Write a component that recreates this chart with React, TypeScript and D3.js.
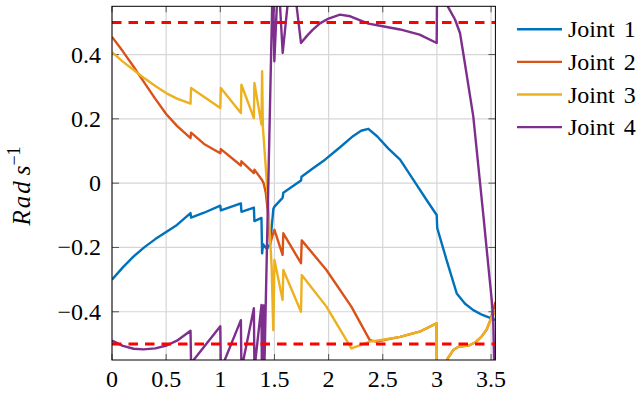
import React from "react";
import * as d3 from "d3";

type P = [number, number];

const xTicks = [0, 0.5, 1, 1.5, 2, 2.5, 3, 3.5];
const yTicks = [-0.4, -0.2, 0, 0.2, 0.4];
const xDomain: P = [0, 3.54];
const yDomain: P = [-0.55, 0.55];
const limits = [0.5, -0.5];

const seriesNames = ["Joint 1", "Joint 2", "Joint 3", "Joint 4"];
const seriesColors = ["#0072BD", "#D95319", "#EDB120", "#7E2F8E"];

const joint1: P[] = [
  [0, -0.3], [0.1, -0.262], [0.2, -0.228], [0.3, -0.199], [0.4, -0.174], [0.5, -0.152],
  [0.6, -0.13], [0.725, -0.093], [0.73, -0.107], [0.85, -0.092], [1.0, -0.07], [1.005, -0.085],
  [1.19, -0.063], [1.195, -0.089], [1.31, -0.076], [1.315, -0.118], [1.38, -0.108], [1.386, -0.218],
  [1.395, -0.19], [1.43, -0.205], [1.46, -0.19], [1.49, -0.08], [1.5, -0.073], [1.575, -0.046],
  [1.582, -0.03], [1.745, 0.008], [1.75, 0.02], [1.85, 0.045], [1.967, 0.073], [2.1, 0.11],
  [2.228, 0.147], [2.3, 0.163], [2.367, 0.169], [2.45, 0.145], [2.55, 0.108], [2.66, 0.073],
  [2.78, 0.012], [2.9, -0.05], [2.998, -0.099], [3.003, -0.14], [3.09, -0.24], [3.183, -0.343],
  [3.26, -0.375], [3.336, -0.395], [3.42, -0.41], [3.497, -0.42], [3.54, -0.425],
];

const joint2: P[] = [
  [0, 0.455], [0.1, 0.41], [0.2, 0.362], [0.3, 0.312], [0.4, 0.262], [0.5, 0.215], [0.6, 0.178],
  [0.725, 0.14], [0.73, 0.157], [0.85, 0.122], [1.0, 0.093], [1.005, 0.106], [1.19, 0.055],
  [1.195, 0.068], [1.31, 0.031], [1.315, 0.042], [1.385, 0.01], [1.4, 0.0], [1.42, -0.03],
  [1.44, -0.09], [1.46, -0.19], [1.48, -0.165], [1.5, -0.145], [1.575, -0.223], [1.582, -0.156],
  [1.745, -0.249], [1.752, -0.178], [1.98, -0.27], [2.21, -0.384], [2.38, -0.488], [2.44, -0.493],
  [2.66, -0.478], [2.84, -0.462], [2.996, -0.436], [3.0, -0.65], [3.06, -0.6], [3.1, -0.545],
  [3.15, -0.519], [3.2, -0.509], [3.3, -0.504], [3.36, -0.494], [3.41, -0.478], [3.46, -0.455],
  [3.5, -0.42], [3.54, -0.37],
];

const joint3: P[] = [
  [0, 0.407], [0.1, 0.378], [0.2, 0.352], [0.3, 0.326], [0.4, 0.302], [0.5, 0.28], [0.6, 0.263],
  [0.725, 0.247], [0.73, 0.296], [1.0, 0.234], [1.005, 0.296], [1.19, 0.218], [1.195, 0.306],
  [1.31, 0.202], [1.315, 0.312], [1.38, 0.182], [1.386, 0.348], [1.393, 0.176], [1.428, 0.01],
  [1.459, -0.166], [1.474, -0.26], [1.489, -0.457], [1.5, -0.239], [1.575, -0.363], [1.582, -0.27],
  [1.745, -0.4], [1.752, -0.286], [1.98, -0.384], [2.21, -0.514], [2.3, -0.503], [2.38, -0.493],
  [2.5, -0.487], [2.66, -0.478], [2.84, -0.462], [2.996, -0.436], [3.0, -0.65], [3.06, -0.6],
  [3.1, -0.545], [3.15, -0.519], [3.2, -0.509], [3.3, -0.504], [3.36, -0.494], [3.41, -0.478],
  [3.46, -0.455], [3.5, -0.42], [3.54, -0.4],
];

const joint4: P[] = [
  [0, -0.49], [0.1, -0.506], [0.2, -0.515], [0.289, -0.517], [0.4, -0.514], [0.505, -0.505],
  [0.6, -0.49], [0.725, -0.459], [0.73, -0.56], [1.0, -0.445], [1.005, -0.58], [1.19, -0.426],
  [1.195, -0.58], [1.31, -0.389], [1.315, -0.58], [1.38, -0.379], [1.384, -0.6], [1.4, -0.38],
  [1.404, -0.62], [1.485, 0.65], [1.499, 0.379], [1.535, 0.65], [1.576, 0.405], [1.65, 0.65],
  [1.68, 0.62], [1.745, 0.436], [1.8, 0.458], [1.85, 0.476], [1.92, 0.497], [2.0, 0.512],
  [2.105, 0.524], [2.2, 0.519], [2.367, 0.496], [2.5, 0.488], [2.66, 0.478], [2.84, 0.462],
  [2.998, 0.436], [3.003, 0.7], [3.06, 0.62], [3.1, 0.55], [3.167, 0.509], [3.213, 0.467],
  [3.25, 0.39], [3.336, 0.207], [3.43, -0.104], [3.506, -0.364], [3.52, -0.426], [3.54, -0.75],
];

const allSeries = [joint1, joint2, joint3, joint4];

const W = 644;
const H = 401;
const left = 112;
const right = 495.4;
const top = 6.3;
const bottom = 360;
const FONT = "Liberation Serif";

export default function App() {
  const x = d3.scaleLinear().domain(xDomain).range([left, right]);
  const y = d3.scaleLinear().domain(yDomain).range([bottom, top]);
  const line = d3
    .line<P>()
    .x((d) => x(d[0]))
    .y((d) => y(d[1]));

  const fmt = (v: number) => {
    const s = Math.abs(v) < 1e-9 ? "0" : String(v);
    return s.replace("-", "\u2212");
  };
  const ts: React.CSSProperties = { fontFamily: FONT };

  return (
    <svg width={W} height={H} style={{ position: "absolute", left: 0, top: 0 }}>
      <style>{`text, tspan { font-family: "Liberation Serif", serif; }`}</style>
      <defs>
        <clipPath id="plotClip">
          <rect x={left} y={top} width={right - left} height={bottom - top} />
        </clipPath>
      </defs>
      <rect x={0} y={0} width={W} height={H} fill="#fff" />
      <g stroke="#d6d6d6" strokeWidth={1.2}>
        {xTicks.map((t) => (
          <line key={"gx" + t} x1={x(t)} x2={x(t)} y1={top} y2={bottom} />
        ))}
        {yTicks.map((t) => (
          <line key={"gy" + t} x1={left} x2={right} y1={y(t)} y2={y(t)} />
        ))}
      </g>
      <g stroke="#555" strokeWidth={1}>
        {xTicks.map((t) => (
          <g key={"tx" + t}>
            <line x1={x(t)} x2={x(t)} y1={bottom} y2={bottom - 6} />
            <line x1={x(t)} x2={x(t)} y1={top} y2={top + 6} />
          </g>
        ))}
        {yTicks.map((t) => (
          <g key={"ty" + t}>
            <line x1={left} x2={left + 7} y1={y(t)} y2={y(t)} />
            <line x1={right} x2={right - 7} y1={y(t)} y2={y(t)} />
          </g>
        ))}
      </g>
      <g clipPath="url(#plotClip)" fill="none" strokeWidth={2.4} strokeLinejoin="round">
        {allSeries.map((s, i) => (
          <path key={i} d={line(s) || ""} stroke={seriesColors[i]} />
        ))}
        {limits.map((l) => (
          <line
            key={"lim" + l}
            x1={left}
            x2={right}
            y1={y(l)}
            y2={y(l)}
            stroke="#ff0000"
            strokeWidth={3}
            strokeDasharray="9.5,7"
          />
        ))}
      </g>
      <rect
        x={left}
        y={top}
        width={right - left}
        height={bottom - top}
        fill="none"
        stroke="#000"
        strokeWidth={1}
      />
      {xTicks.map((t) => (
        <text key={"lx" + t} x={x(t)} y={387} fontSize={24} textAnchor="middle" style={ts}>
          {fmt(t)}
        </text>
      ))}
      {yTicks.map((t) => (
        <text key={"ly" + t} x={101} y={y(t) + 8} fontSize={24} textAnchor="end" style={ts}>
          {fmt(t)}
        </text>
      ))}
      <text transform="translate(30,186) rotate(-90)" fontSize={25} textAnchor="middle" style={ts}>
        <tspan fontStyle="italic" letterSpacing={2}>Rad</tspan>
        <tspan fontStyle="italic" dx={4}>s</tspan>
        <tspan fontSize={18} dy={-10}>{"\u22121"}</tspan>
      </text>
      {seriesNames.map((n, i) => {
        const ly = 29.3 + i * 32.6;
        return (
          <g key={n}>
            <line x1={517} x2={562} y1={ly} y2={ly} stroke={seriesColors[i]} strokeWidth={2.4} />
            <text x={568} y={ly + 8} fontSize={24} wordSpacing={3} style={ts}>
              {n}
            </text>
          </g>
        );
      })}
    </svg>
  );
}
